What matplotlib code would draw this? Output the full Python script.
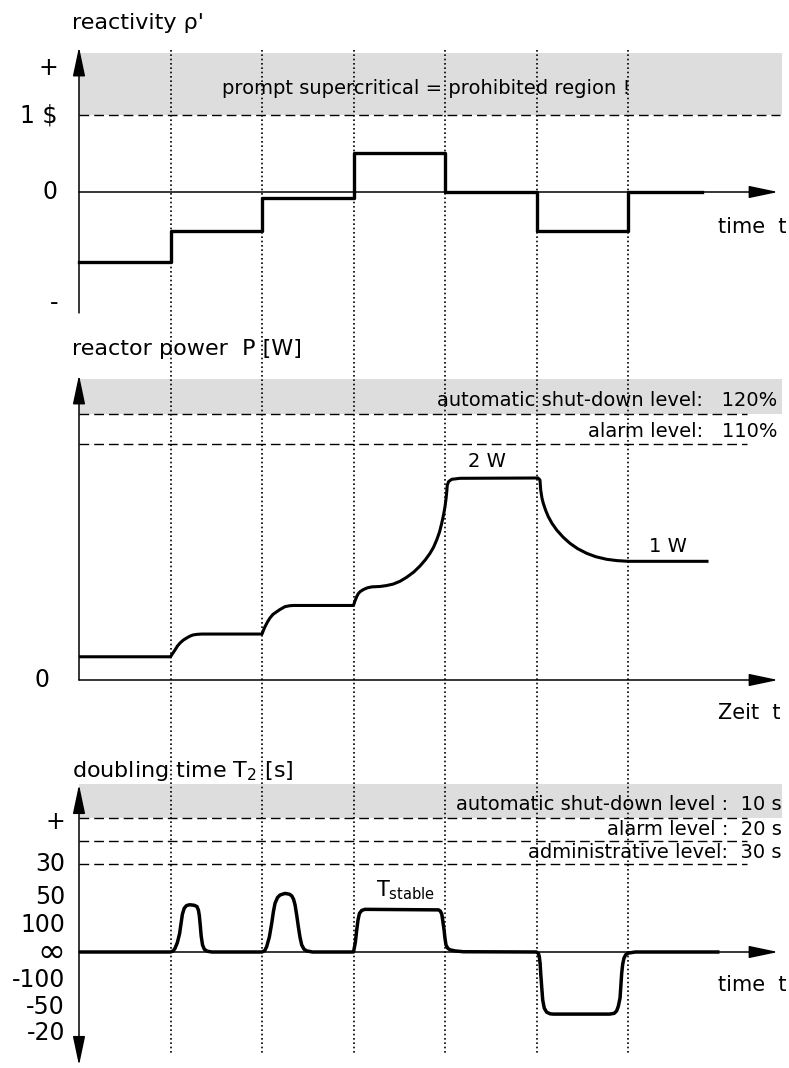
import matplotlib.pyplot as plt

W, H, DPI = 789, 1068, 100

# rod movements happen at t = 1 ... 6 (arbitrary time units)
event_times = [1, 2, 3, 4, 5, 6]

# reactivity in dollars, step function
rho_t = [0, 1, 2, 3, 4, 5, 6, 6.81]
rho_vals = [-0.91, -0.50, -0.08, 0.50, 0.0, -0.50, 0.0, 0.0]
rho_tick_pos = [1.61, 1.0, 0.0, -1.44]
rho_tick_labels = ['+', r'1 \$', '0', '-']
rho_prompt = 1.0

# reactor power (relative units, 2 W plateau = 2.0)
power_t = [0, 1.0, 1.025, 1.049, 1.075, 1.104, 1.14, 1.177, 1.21, 1.246, 1.29, 1.341,
           2.0, 2.015, 2.033, 2.06, 2.087, 2.12, 2.161, 2.2, 2.251, 2.30, 2.342,
           3.0, 3.015, 3.035, 3.05, 3.071, 3.107, 3.15, 3.199, 3.29, 3.36, 3.435,
           3.51, 3.581, 3.66, 3.727, 3.785, 3.836, 3.875, 3.909, 3.94, 3.964,
           3.985, 4.0, 4.012, 4.019, 4.025, 4.04, 4.073, 4.164,
           5.016, 5.038, 5.046, 5.06, 5.074, 5.10, 5.129, 5.17, 5.221, 5.29,
           5.366, 5.45, 5.549, 5.65, 5.767, 5.88, 6.003, 6.88]
power_vals = [0.23, 0.23, 0.265, 0.297, 0.335, 0.366, 0.395, 0.416, 0.433, 0.446, 0.452, 0.455,
              0.455, 0.49, 0.528, 0.575, 0.614, 0.65, 0.676, 0.70, 0.726, 0.735, 0.738,
              0.738, 0.78, 0.825, 0.852, 0.874, 0.895, 0.912, 0.922, 0.926, 0.935, 0.95,
              0.978, 1.017, 1.07, 1.129, 1.19, 1.254, 1.315, 1.386, 1.465, 1.551,
              1.64, 1.716, 1.80, 1.864, 1.93, 1.965, 1.987, 1.997,
              2.0, 1.98, 1.88, 1.80, 1.75, 1.68, 1.617, 1.55, 1.485, 1.415,
              1.353, 1.30, 1.254, 1.22, 1.195, 1.182, 1.175, 1.175]
power_shutdown = 2.634
power_alarm = 2.337

# doubling time, drawn on a schematic 1/T2 like scale
t2_t = [0, 1.0, 1.03, 1.05, 1.075, 1.10, 1.115, 1.13, 1.15, 1.175, 1.21, 1.26, 1.29,
        1.305, 1.315, 1.325, 1.335, 1.35, 1.37, 1.40, 1.45,
        2.0, 2.03, 2.051, 2.08, 2.106, 2.125, 2.142, 2.17, 2.197, 2.251, 2.30, 2.325,
        2.345, 2.361, 2.38, 2.397, 2.415, 2.434, 2.46, 2.49, 2.55,
        3.0, 3.02, 3.035, 3.05, 3.065, 3.09, 3.125, 3.93, 3.95, 3.965, 3.978, 3.99,
        4.0, 4.011, 4.03, 4.055, 4.11, 4.2,
        5.0, 5.02, 5.031, 5.04, 5.046, 5.057, 5.068, 5.085, 5.111, 5.15, 5.184,
        5.80, 5.85, 5.876, 5.895, 5.913, 5.923, 5.931, 5.942, 5.956, 5.975, 6.003, 6.08, 7.0]
t2_vals = [0, 0, 0.04, 0.14, 0.35, 0.69, 1.05, 1.40, 1.62, 1.72, 1.75, 1.73, 1.68,
           1.55, 1.35, 1.0, 0.6, 0.26, 0.10, 0.03, 0.0,
           0, 0.05, 0.20, 0.55, 1.06, 1.5, 1.80, 2.02, 2.11, 2.17, 2.14, 2.08,
           1.95, 1.75, 1.35, 0.94, 0.55, 0.26, 0.10, 0.04, 0.0,
           0, 0.35, 0.81, 1.2, 1.43, 1.54, 1.58, 1.56, 1.51, 1.40, 1.1, 0.81,
           0.5, 0.26, 0.14, 0.08, 0.04, 0.01,
           0, -0.05, -0.17, -0.45, -0.79, -1.3, -1.78, -2.08, -2.23, -2.29, -2.30,
           -2.30, -2.27, -2.18, -2.0, -1.70, -1.2, -0.79, -0.45, -0.23, -0.10, -0.04, 0, 0]
t2_tick_pos = [4.81, 3.26, 2.04, 1.0, 0.0, -1.04, -2.04, -3.0]
t2_tick_labels = ['+', '30', '50', '100', '∞', '-100', '-50', '-20']
t2_levels = [4.96, 4.11, 3.26]   # 10 s, 20 s, 30 s

plt.rcParams['font.family'] = 'DejaVu Sans'
plt.rcParams['mathtext.fontset'] = 'dejavusans'
plt.rcParams['mathtext.default'] = 'regular'

GREY = '#dddddd'
X0, DX = 79, 91.5          # pixel of t=0 and pixels per time unit
XLIM = (-X0 / DX, (W - X0) / DX)
DASH = (0, (7, 3.6))

fig = plt.figure(figsize=(W / DPI, H / DPI), dpi=DPI)


def panel(top_px, bot_px, zero_px, unit_px):
    ax = fig.add_axes([0, 1 - bot_px / H, 1, (bot_px - top_px) / H])
    ax.set_xlim(*XLIM)
    ax.set_ylim((zero_px - bot_px) / unit_px, (zero_px - top_px) / unit_px)
    ax.axis('off')
    return ax


def arrow(ax, xy_from, xy_to, style='-|>'):
    ax.annotate('', xy=xy_to, xytext=xy_from,
                arrowprops=dict(arrowstyle=style + ',head_length=1.8,head_width=0.38',
                                mutation_scale=10, lw=1.1, color='black',
                                shrinkA=0, shrinkB=0), annotation_clip=False)


# ---- reactivity ----
ax1 = panel(0, 320, 192, 77)
ax1.fill_between([0, 7.68], rho_prompt, 1.805, color=GREY, lw=0, zorder=0)
ax1.plot([0, 7.66], [rho_prompt, rho_prompt], color='black', lw=1.0, ls=DASH)
arrow(ax1, (0, -1.571), (0, 1.883))
arrow(ax1, (0, 0), (7.64, 0))
ax1.step(rho_t, rho_vals, where='post', color='black', lw=2.4, zorder=3)
for pos, lab in zip(rho_tick_pos, rho_tick_labels):
    ax1.text(-0.23, pos, lab, ha='right', va='center', fontsize=17)
ax1.text(-0.0765, 2.2, "reactivity ρ'", ha='left', va='center', fontsize=16)
ax1.text(3.79, 1.35, 'prompt supercritical = prohibited region !',
         ha='center', va='center', fontsize=14)
ax1.text(6.98, -0.455, 'time  t', ha='left', va='center', fontsize=15)

# ---- reactor power ----
ax2 = panel(320, 720, 680, 101)
ax2.fill_between([0, 7.68], power_shutdown, 2.98, color=GREY, lw=0, zorder=0)
for lev in [power_shutdown, power_alarm]:
    ax2.plot([0, 7.30], [lev, lev], color='black', lw=1.0, ls=DASH)
arrow(ax2, (0, 0), (0, 3.02))
arrow(ax2, (0, 0), (7.64, 0))
ax2.plot(power_t, power_vals, color='black', lw=2.2, zorder=3,
         solid_joinstyle='round', solid_capstyle='butt')
ax2.text(-0.404, 0, '0', ha='center', va='center', fontsize=17)
ax2.text(-0.0765, 3.28, 'reactor power  P [W]', ha='left', va='center', fontsize=16)
ax2.text(7.63, 2.77, 'automatic shut-down level:   120%', ha='right', va='center', fontsize=14)
ax2.text(7.63, 2.465, 'alarm level:   110%', ha='right', va='center', fontsize=14)
ax2.text(4.46, 2.16, '2 W', ha='center', va='center', fontsize=14)
ax2.text(6.44, 1.32, '1 W', ha='center', va='center', fontsize=14)
ax2.text(6.98, -0.33, 'Zeit  t', ha='left', va='center', fontsize=15)

# ---- doubling time ----
ax3 = panel(720, 1068, 952, 27)
ax3.fill_between([0, 7.68], t2_levels[0], 6.22, color=GREY, lw=0, zorder=0)
for lev in t2_levels:
    ax3.plot([0, 7.30], [lev, lev], color='black', lw=1.0, ls=DASH)
arrow(ax3, (0, -4.2), (0, 6.2), style='<|-|>')
arrow(ax3, (0, 0), (7.64, 0))
ax3.plot(t2_t, t2_vals, color='black', lw=2.5, zorder=3,
         solid_joinstyle='round', solid_capstyle='butt')
for pos, lab in zip(t2_tick_pos, t2_tick_labels):
    ax3.text(-0.153, pos, lab, ha='right', va='center',
             fontsize=24 if lab == '∞' else 17)
ax3.text(-0.0765, 6.7, 'doubling time T$_2$ [s]', ha='left', va='center', fontsize=16)
ax3.text(7.68, 5.48, 'automatic shut-down level :  10 s', ha='right', va='center', fontsize=14)
ax3.text(7.68, 4.55, 'alarm level :  20 s', ha='right', va='center', fontsize=14)
ax3.text(7.68, 3.70, 'administrative level:  30 s', ha='right', va='center', fontsize=14)
ax3.text(3.25, 2.30, 'T$_{stable}$', ha='left', va='center', fontsize=15)
ax3.text(6.98, -1.22, 'time  t', ha='left', va='center', fontsize=15)

# ---- dotted time markers across all panels ----
ax_all = fig.add_axes([0, 0, 1, 1])
ax_all.set_xlim(*XLIM)
ax_all.set_ylim(H, 0)
ax_all.axis('off')
ax_all.patch.set_alpha(0)
for t in event_times:
    ax_all.plot([t, t], [50, 1053], color='black', lw=1.2, ls=(0, (1, 1.6)))

fig.savefig('out.png', dpi=DPI)
